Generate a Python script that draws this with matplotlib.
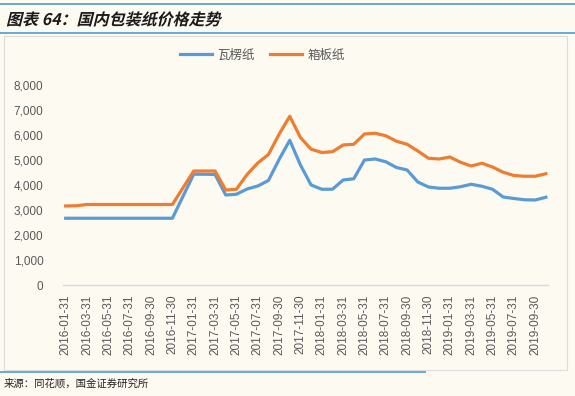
import matplotlib
matplotlib.use("Agg")
import matplotlib.pyplot as plt
from matplotlib.lines import Line2D
from matplotlib.patches import Rectangle, PathPatch
from matplotlib.textpath import TextPath
from matplotlib.font_manager import FontProperties
from matplotlib.transforms import Affine2D, IdentityTransform
from matplotlib.ticker import FuncFormatter

plt.rcParams['font.family'] = ['Noto Sans CJK SC', 'DejaVu Sans']

# 月度数据 2016-01 ~ 2019-10（元/吨）
corrugated = [2670, 2670, 2670, 2670, 2670, 2670, 2670, 2670, 2670, 2670, 2670,
              3550, 4430, 4430, 4420, 3600, 3630, 3840, 3960, 4180, 5020, 5790,
              4800, 4000, 3830, 3830, 4200, 4250, 5000, 5040, 4930, 4700, 4600,
              4120, 3920, 3870, 3870, 3930, 4030, 3950, 3830, 3520, 3460, 3410,
              3400, 3510]
boxboard = [3160, 3170, 3220, 3220, 3220, 3220, 3220, 3220, 3220, 3220, 3220,
            3890, 4560, 4560, 4560, 3800, 3830, 4420, 4880, 5220, 6030, 6750,
            5900, 5430, 5300, 5330, 5600, 5630, 6040, 6070, 5970, 5750, 5630,
            5360, 5070, 5040, 5120, 4910, 4760, 4870, 4720, 4510, 4380, 4350,
            4350, 4450]
tick_labels = ["2016-01-31", "2016-03-31", "2016-05-31", "2016-07-31", "2016-09-30",
               "2016-11-30", "2017-01-31", "2017-03-31", "2017-05-31", "2017-07-31",
               "2017-09-30", "2017-11-30", "2018-01-31", "2018-03-31", "2018-05-31",
               "2018-07-31", "2018-09-30", "2018-11-30", "2019-01-31", "2019-03-31",
               "2019-05-31", "2019-07-31", "2019-09-30"]
names = ["瓦楞纸", "箱板纸"]
colors = ["#5B9BD5", "#ED7D31"]

BG = "#fdfaf2"
W, H = 575, 396
fig = plt.figure(figsize=(W / 100, H / 100), dpi=100, facecolor=BG)

# 外框、标题线
fig.add_artist(Rectangle((4 / W, 1 - 370 / H), 563 / W, 334 / H, transform=fig.transFigure,
                         fill=False, edgecolor="#dcdcdc", lw=0.8))
for y, x1 in [(4, W), (33, W), (372, 425)]:
    fig.add_artist(Line2D([0, x1 / W], [1 - y / H, 1 - y / H], transform=fig.transFigure,
                          color="#5aa5d2", lw=1.3))

# 斜体粗体标题（CJK 字体无斜体，用斜切路径模拟）
tp = TextPath((0, 0), "图表 64：国内包装纸价格走势", size=16,
              prop=FontProperties(family="Noto Sans CJK SC", weight="bold"))
fig.add_artist(PathPatch(tp, transform=Affine2D().skew_deg(14, 0).translate(6, H - 25) + IdentityTransform(),
                         facecolor="#1a1a1a", edgecolor="none"))

fig.text(4 / W, 1 - 384 / H, "来源：同花顺，国金证券研究所", fontsize=7.5,
         color="#222222", va="center", ha="left")

ax = fig.add_axes([63 / W, 1 - 285 / H, 485 / W, 200 / H])
ax.set_facecolor(BG)
x = list(range(len(corrugated)))
for vals, nm, c in zip([corrugated, boxboard], names, colors):
    ax.plot(x, vals, color=c, lw=2.3, label=nm, solid_joinstyle="round")

ax.set_xlim(-0.25, 45.2)
ax.set_ylim(0, 8000)
ax.set_yticks(range(0, 8001, 1000))
ax.yaxis.set_major_formatter(FuncFormatter(lambda v, p: f"{int(v):,}"))
ax.set_xticks(range(0, len(corrugated), 2))
ax.set_xticklabels(tick_labels, rotation=90, family=["Liberation Sans", "DejaVu Sans"])
for lab in ax.get_yticklabels():
    lab.set_family(["Liberation Sans", "DejaVu Sans"])
ax.tick_params(axis="y", length=0, pad=14, labelsize=8.5, labelcolor="#595959")
ax.tick_params(axis="x", length=0, pad=7, labelsize=8.5, labelcolor="#595959")
for s in ["top", "right", "left"]:
    ax.spines[s].set_visible(False)
ax.spines["bottom"].set_color("#d9d9d9")
ax.spines["bottom"].set_linewidth(1.0)

fig.legend(loc="center", bbox_to_anchor=(0.456, 1 - 55 / H), ncol=2, frameon=False,
           fontsize=9, labelcolor="#595959", handlelength=2.6, columnspacing=1.2,
           handletextpad=0.4)

fig.savefig("out.png", dpi=100, facecolor=BG)
